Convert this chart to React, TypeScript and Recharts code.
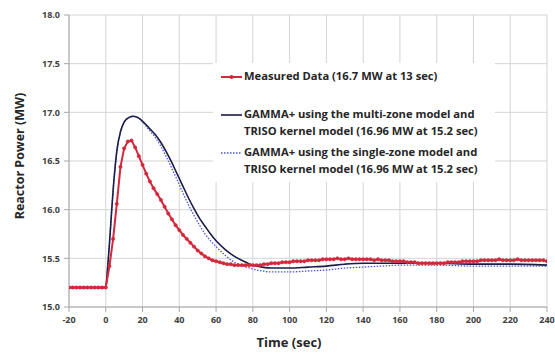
import React from 'react';
import { LineChart, Line, XAxis, YAxis, CartesianGrid, Legend } from 'recharts';

const measuredTime = [
  -20, -18, -16, -14, -12, -10, -8, -6, -4, -2, 0,
  2, 4, 6, 8, 10, 12, 14, 16, 18, 20,
  22, 24, 26, 28, 30, 32, 34, 36, 38, 40,
  42, 44, 46, 48, 50, 52, 54, 56, 58, 60,
  62, 64, 66, 68, 70, 72, 74, 76, 78, 80,
  82, 84, 86, 88, 90, 92, 94, 96, 98, 100,
  102, 104, 106, 108, 110, 112, 114, 116, 118, 120,
  122, 124, 126, 128, 130, 132, 134, 136, 138, 140,
  142, 144, 146, 148, 150, 152, 154, 156, 158, 160,
  162, 164, 166, 168, 170, 172, 174, 176, 178, 180,
  182, 184, 186, 188, 190, 192, 194, 196, 198, 200,
  202, 204, 206, 208, 210, 212, 214, 216, 218, 220,
  222, 224, 226, 228, 230, 232, 234, 236, 238, 240,
];

const measuredPower = [
  15.2, 15.2, 15.2, 15.2, 15.2, 15.2, 15.2, 15.2, 15.2, 15.2, 15.2,
  15.42, 15.7, 16.06, 16.44, 16.63, 16.7, 16.71, 16.64, 16.55, 16.46,
  16.37, 16.29, 16.22, 16.16, 16.1, 16.03, 15.96, 15.9, 15.84, 15.79,
  15.74, 15.7, 15.66, 15.62, 15.58, 15.55, 15.52, 15.5, 15.48, 15.47,
  15.46, 15.45, 15.44, 15.44, 15.43, 15.43, 15.43, 15.43, 15.43, 15.43,
  15.43, 15.43, 15.44, 15.44, 15.45, 15.45, 15.45, 15.46, 15.46, 15.46,
  15.47, 15.47, 15.47, 15.47, 15.48, 15.48, 15.48, 15.48, 15.49, 15.49,
  15.49, 15.49, 15.5, 15.49, 15.49, 15.5, 15.49, 15.49, 15.49, 15.49,
  15.49, 15.49, 15.48, 15.49, 15.48, 15.48, 15.48, 15.47, 15.47, 15.47,
  15.47, 15.46, 15.46, 15.46, 15.45, 15.45, 15.45, 15.45, 15.45, 15.45,
  15.45, 15.45, 15.46, 15.46, 15.46, 15.46, 15.47, 15.47, 15.47, 15.47,
  15.47, 15.48, 15.48, 15.48, 15.48, 15.48, 15.49, 15.48, 15.48, 15.48,
  15.48, 15.49, 15.48, 15.48, 15.48, 15.48, 15.48, 15.48, 15.48, 15.47,
];

const modelTime = [
  -20, -10, 0, 1, 2, 3, 4, 5, 6, 8, 10, 12, 15, 18, 21, 24, 27, 30, 33, 36,
  39, 42, 45, 48, 51, 54, 57, 60, 65, 70, 75, 80, 85, 90, 100, 110, 120, 130,
  140, 150, 160, 170, 180, 200, 220, 240,
];

const multiZonePower = [
  15.2, 15.2, 15.2, 15.4, 15.65, 15.93, 16.2, 16.42, 16.6, 16.8, 16.9, 16.94, 16.96, 16.94, 16.89, 16.83, 16.77, 16.69, 16.59, 16.48,
  16.36, 16.24, 16.12, 16.01, 15.91, 15.83, 15.75, 15.68, 15.59, 15.52, 15.47, 15.43, 15.41, 15.4, 15.4, 15.41, 15.42, 15.44,
  15.45, 15.45, 15.45, 15.45, 15.45, 15.44, 15.44, 15.43,
];

const singleZonePower = [
  15.2, 15.2, 15.2, 15.4, 15.65, 15.93, 16.2, 16.42, 16.6, 16.8, 16.9, 16.94, 16.96, 16.94, 16.88, 16.81, 16.74, 16.65, 16.54, 16.42,
  16.3, 16.17, 16.05, 15.94, 15.84, 15.75, 15.68, 15.62, 15.53, 15.46, 15.42, 15.39, 15.37, 15.36, 15.36, 15.37, 15.38, 15.4,
  15.41, 15.42, 15.43, 15.43, 15.43, 15.42, 15.42, 15.42,
];

const xTicks = [-20, 0, 20, 40, 60, 80, 100, 120, 140, 160, 180, 200, 220, 240];
const yTicks = [15, 15.5, 16, 16.5, 17, 17.5, 18];

const seriesNames = [
  'Measured Data (16.7 MW at 13 sec)',
  'GAMMA+ using the multi-zone model and|TRISO kernel model (16.96 MW at 15.2 sec)',
  'GAMMA+ using the single-zone model and|TRISO kernel model (16.96 MW at 15.2 sec)',
];

const RED = '#d3283c';
const NAVY = '#1c1c48';
const BLUE = '#4a55d8';

const measuredData = measuredTime.map((t, i) => ({ t, v: measuredPower[i] }));
const multiData = modelTime.map((t, i) => ({ t, v: multiZonePower[i] }));
const singleData = modelTime.map((t, i) => ({ t, v: singleZonePower[i] }));

const FONT = '"Open Sans", "Liberation Sans", Arial, sans-serif';

function LegendBox() {
  const items = [
    { top: 5, name: seriesNames[0], kind: 'measured' },
    { top: 43, name: seriesNames[1], kind: 'multi' },
    { top: 81, name: seriesNames[2], kind: 'single' },
  ];
  return (
    <div
      style={{
        position: 'relative',
        width: 282,
        height: 119,
        background: '#fff',
        fontFamily: FONT,
        fontWeight: 'bold',
        fontSize: 11.2,
        color: '#262626',
      }}
    >
      {items.map((it) => (
        <div key={it.kind} style={{ position: 'absolute', left: 0, top: it.top, width: 282 }}>
          <svg width={24} height={10} style={{ position: 'absolute', left: 8, top: 4 }}>
            {it.kind === 'measured' && (
              <>
                <line x1={0} y1={5} x2={21} y2={5} stroke={RED} strokeWidth={2} />
                <circle cx={10.5} cy={5} r={2} fill={RED} />
              </>
            )}
            {it.kind === 'multi' && <line x1={0} y1={5} x2={21} y2={5} stroke={NAVY} strokeWidth={1.6} />}
            {it.kind === 'single' && (
              <line x1={0} y1={5} x2={21} y2={5} stroke={BLUE} strokeWidth={1.3} strokeDasharray="1.5 1.5" />
            )}
          </svg>
          <div style={{ position: 'absolute', left: 31, top: 0, lineHeight: '16.7px', whiteSpace: 'nowrap' }}>
            {it.name.split('|').map((ln, j) => (
              <div key={j}>{ln}</div>
            ))}
          </div>
        </div>
      ))}
    </div>
  );
}

export default function App() {
  return (
    <div style={{ position: 'absolute', left: 0, top: 0, width: 555, height: 356, background: '#fff' }}>
      <LineChart width={555} height={356} margin={{ top: 15, right: 8, left: 0, bottom: 19 }}>
        <CartesianGrid stroke="#d4d4d4" strokeWidth={1} vertical horizontal />
        <XAxis
          dataKey="t"
          type="number"
          domain={[-20, 240]}
          ticks={xTicks}
          interval={0}
          height={30}
          stroke="#a8a8a8"
          tickSize={5}
          tick={{ fill: '#404040', fontSize: 9, fontWeight: 'bold', fontFamily: FONT }}
          tickMargin={5}
          allowDataOverflow
          label={{
            content: () => (
              <text x={289} y={347} textAnchor="middle" fill="#262626" fontSize={13} fontWeight="bold" fontFamily={FONT}>
                Time (sec)
              </text>
            ),
          }}
        />
        <YAxis
          type="number"
          domain={[15, 18]}
          ticks={yTicks}
          interval={0}
          width={69}
          stroke="#a8a8a8"
          tickSize={5}
          tickMargin={4}
          tickFormatter={(v: number) => v.toFixed(1)}
          tick={{ fill: '#404040', fontSize: 9, fontWeight: 'bold', fontFamily: FONT }}
          allowDataOverflow
          label={{
            content: () => (
              <text
                x={24}
                y={156}
                transform="rotate(-90 24 156)"
                textAnchor="middle"
                fill="#262626"
                fontSize={12.5}
                fontWeight="bold"
                fontFamily={FONT}
              >
                Reactor Power (MW)
              </text>
            ),
          }}
        />
        <Legend
          layout="vertical"
          align="center"
          verticalAlign="middle"
          content={() => <LegendBox />}
          wrapperStyle={{ position: 'absolute', left: 213, top: 63, width: 282, height: 119 }}
        />
        <Line
          data={singleData}
          dataKey="v"
          type="monotone"
          stroke={BLUE}
          strokeWidth={1.3}
          strokeDasharray="1.5 1.5"
          dot={false}
          isAnimationActive={false}
        />
        <Line
          data={multiData}
          dataKey="v"
          type="monotone"
          stroke={NAVY}
          strokeWidth={1.6}
          dot={false}
          isAnimationActive={false}
        />
        <Line
          data={measuredData}
          dataKey="v"
          type="linear"
          stroke={RED}
          strokeWidth={2}
          dot={{ r: 1.7, fill: RED, stroke: RED, strokeWidth: 0.5 }}
          isAnimationActive={false}
        />
      </LineChart>
    </div>
  );
}
